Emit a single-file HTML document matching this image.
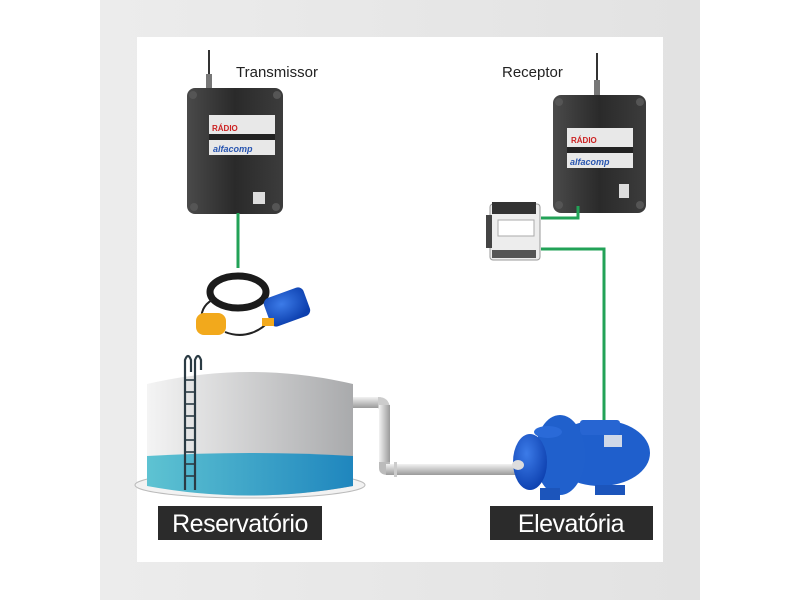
<!DOCTYPE html>
<html><head><meta charset="utf-8"><style>
html,body{margin:0;padding:0;background:#fff;width:800px;height:600px;overflow:hidden}
svg{display:block}
text{font-family:"Liberation Sans",sans-serif}
</style></head><body>
<svg width="800" height="600" viewBox="0 0 800 600" xmlns="http://www.w3.org/2000/svg">
<defs>
<linearGradient id="frame" x1="0" x2="1" y1="0" y2="0"><stop offset="0" stop-color="#ececec"/><stop offset="1" stop-color="#e2e2e2"/></linearGradient>
<linearGradient id="tank" x1="0" x2="1"><stop offset="0" stop-color="#f4f4f4"/><stop offset="1" stop-color="#a9aaac"/></linearGradient>
<linearGradient id="water" x1="0" x2="1"><stop offset="0" stop-color="#5ec3d2"/><stop offset="1" stop-color="#1f86be"/></linearGradient>
<linearGradient id="box" x1="0" x2="1"><stop offset="0" stop-color="#4a4a4a"/><stop offset="0.5" stop-color="#2a2a2a"/><stop offset="1" stop-color="#3c3c3c"/></linearGradient>
<linearGradient id="pipe" x1="0" x2="0" y1="0" y2="1"><stop offset="0" stop-color="#f2f2f2"/><stop offset="1" stop-color="#9a9a9a"/></linearGradient>
<linearGradient id="pipev" x1="0" x2="1"><stop offset="0" stop-color="#f2f2f2"/><stop offset="1" stop-color="#9a9a9a"/></linearGradient>
<radialGradient id="blue" cx="0.4" cy="0.35" r="0.7"><stop offset="0" stop-color="#3c7be8"/><stop offset="1" stop-color="#0c3fae"/></radialGradient>
</defs>
<rect x="100" y="0" width="600" height="600" fill="url(#frame)"/>
<rect x="137" y="37" width="526" height="525" fill="#fff"/>

<text x="236" y="77" font-size="15" fill="#222">Transmissor</text>
<text x="502" y="77" font-size="15" fill="#222">Receptor</text>

<line x1="209" y1="50" x2="209" y2="92" stroke="#333" stroke-width="2"/>
<rect x="206" y="74" width="6" height="16" fill="#777"/>
<rect x="187" y="88" width="96" height="126" rx="8" fill="url(#box)"/>
<rect x="209" y="115" width="66" height="40" fill="#e8e8e8"/>
<text x="212" y="131" font-size="8" fill="#c22" font-weight="bold">RÁDIO</text>
<rect x="209" y="134" width="66" height="6" fill="#222"/>
<text x="213" y="152" font-size="9" fill="#2855b0" font-style="italic" font-weight="bold">alfacomp</text>
<rect x="253" y="192" width="12" height="12" fill="#ddd"/>
<circle cx="193" cy="95" r="4" fill="#555"/><circle cx="277" cy="95" r="4" fill="#555"/>
<circle cx="194" cy="207" r="4" fill="#555"/><circle cx="276" cy="207" r="4" fill="#555"/>

<line x1="597" y1="53" x2="597" y2="97" stroke="#333" stroke-width="2"/>
<rect x="594" y="80" width="6" height="16" fill="#777"/>
<rect x="553" y="95" width="93" height="118" rx="8" fill="url(#box)"/>
<rect x="567" y="128" width="66" height="40" fill="#e8e8e8"/>
<text x="571" y="143" font-size="8" fill="#c22" font-weight="bold">RÁDIO</text>
<rect x="567" y="147" width="66" height="6" fill="#222"/>
<text x="570" y="165" font-size="9" fill="#2855b0" font-style="italic" font-weight="bold">alfacomp</text>
<rect x="619" y="184" width="10" height="14" fill="#ddd"/>
<circle cx="559" cy="102" r="4" fill="#555"/><circle cx="640" cy="102" r="4" fill="#555"/>
<circle cx="559" cy="205" r="4" fill="#555"/><circle cx="640" cy="205" r="4" fill="#555"/>

<g stroke="#22a257" stroke-width="3" fill="none">
<polyline points="238,213 238,268"/>
<polyline points="578,206 578,218 541,218"/>
<polyline points="541,249 604,249 604,428"/>
</g>

<rect x="490" y="204" width="50" height="56" rx="3" fill="#ededed" stroke="#999"/>
<rect x="492" y="202" width="44" height="12" fill="#333"/>
<rect x="498" y="220" width="36" height="16" fill="#fff" stroke="#aaa"/>
<rect x="492" y="250" width="44" height="8" fill="#555"/>
<rect x="486" y="215" width="6" height="33" fill="#444"/>

<ellipse cx="238" cy="292" rx="28" ry="16" fill="none" stroke="#1b1b1b" stroke-width="7"/>
<path d="M212,300 C195,310 200,332 218,330 M225,332 C245,340 262,330 270,320" stroke="#222" stroke-width="2" fill="none"/>
<rect x="196" y="313" width="30" height="22" rx="8" fill="#f2a91c"/>
<rect x="266" y="292" width="42" height="30" rx="6" fill="url(#blue)" transform="rotate(-20 287 307)"/>
<rect x="262" y="318" width="12" height="8" fill="#f2a91c"/>

<ellipse cx="250" cy="485" rx="115" ry="13" fill="#f2f2f2" stroke="#bbb"/>
<path d="M147,384 Q250,360 353,384 L353,486 Q250,505 147,486 Z" fill="url(#tank)"/>
<path d="M147,456 Q250,450 353,456 L353,486 Q250,505 147,486 Z" fill="url(#water)"/>
<g stroke="#2b3b44" stroke-width="2.2" fill="none">
<path d="M185,490 L185,360 Q188,352 191,360 L191,372"/>
<path d="M195,490 L195,360 Q198,352 201,360 L201,370"/>
</g>
<g stroke="#2b3b44" stroke-width="1.6">
<line x1="185" y1="380" x2="195" y2="380"/><line x1="185" y1="392" x2="195" y2="392"/><line x1="185" y1="404" x2="195" y2="404"/><line x1="185" y1="416" x2="195" y2="416"/><line x1="185" y1="428" x2="195" y2="428"/><line x1="185" y1="440" x2="195" y2="440"/><line x1="185" y1="452" x2="195" y2="452"/><line x1="185" y1="464" x2="195" y2="464"/><line x1="185" y1="476" x2="195" y2="476"/>
</g>

<rect x="353" y="397" width="28" height="11" fill="url(#pipe)"/>
<path d="M378,397 Q390,397 390,410 L379,410 Q379,408 378,408Z" fill="#ccc"/>
<rect x="379" y="405" width="11" height="62" fill="url(#pipev)"/>
<path d="M379,462 L379,468 Q379,475 388,475 L390,475 L390,462Z" fill="#bbb"/>
<rect x="386" y="464" width="130" height="11" fill="url(#pipe)"/>
<rect x="394" y="462" width="3" height="15" fill="#ccc"/>

<g>
<ellipse cx="600" cy="453" rx="50" ry="33" fill="#1f5fcc"/>
<rect x="580" y="420" width="40" height="15" rx="3" fill="#2765d2"/>
<ellipse cx="560" cy="455" rx="25" ry="40" fill="#2060cc"/>
<ellipse cx="530" cy="462" rx="17" ry="28" fill="url(#blue)"/>
<ellipse cx="548" cy="432" rx="14" ry="6" fill="#2a6ad8"/>
<rect x="540" y="488" width="20" height="12" fill="#1c55bb"/>
<rect x="595" y="485" width="30" height="10" fill="#1c55bb"/>
<rect x="604" y="435" width="18" height="12" fill="#cfd8e8"/>
<ellipse cx="518" cy="465" rx="6" ry="5" fill="#ddd"/>
</g>

<rect x="158" y="506" width="164" height="34" fill="#2b2b2b"/>
<text x="240" y="532" font-size="25" fill="#fff" text-anchor="middle" letter-spacing="-0.5">Reservatório</text>
<rect x="490" y="506" width="163" height="34" fill="#2b2b2b"/>
<text x="571" y="532" font-size="25" fill="#fff" text-anchor="middle" letter-spacing="-0.5">Elevatória</text>
</svg>
</body></html>
